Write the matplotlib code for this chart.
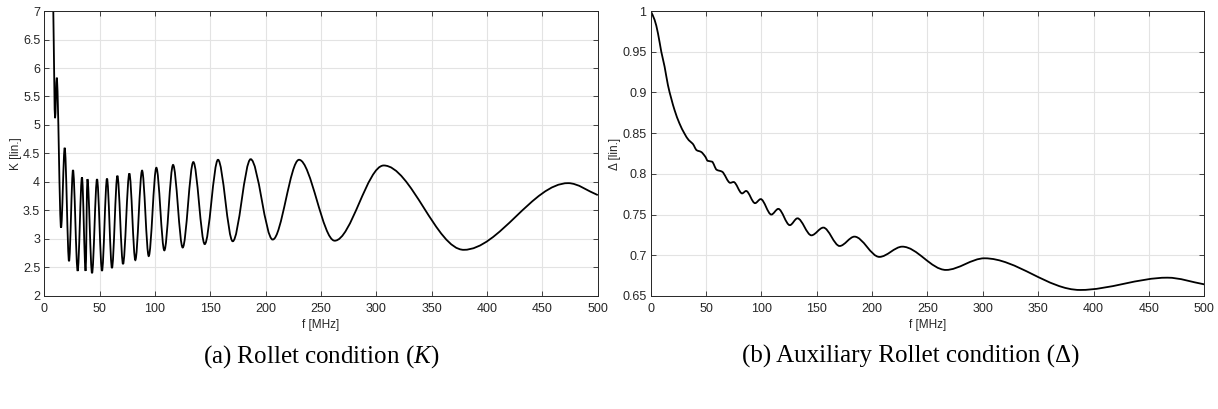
import matplotlib
matplotlib.use("Agg")
from matplotlib import pyplot as plt
from matplotlib.path import Path
from matplotlib.patches import PathPatch

# K (Rollet factor): points read at extrema of the curve
f_K = [8.1, 9.7, 11.2, 15.1, 18.4, 22.3, 25.9, 30.1, 34.0, 37.3, 38.9, 43.1,
       47.6, 52.1, 56.6, 61.1, 66.0, 71.1, 76.8, 82.2, 88.3, 94.3, 101.2,
       108.4, 116.3, 125.0, 134.6, 144.9, 156.9, 170.2, 186.4, 206.3, 230.1,
       262.3, 306.6, 378.9, 473.2, 500.0]
K = [7.0, 5.12, 5.83, 3.20, 4.60, 2.61, 4.21, 2.44, 4.08, 2.44, 4.05, 2.40,
     4.05, 2.44, 4.06, 2.49, 4.11, 2.56, 4.15, 2.63, 4.20, 2.70, 4.25,
     2.80, 4.30, 2.85, 4.35, 2.91, 4.39, 2.96, 4.40, 2.99, 4.39,
     2.97, 4.29, 2.81, 3.98, 3.77]

# Delta (auxiliary Rollet condition)
f_D = [0, 3.6, 6.6, 9.6, 12.6, 15.6, 18.6, 21.6, 26.0, 30.5, 34.4, 38.0,
       41.6, 45.5, 49.4, 51.5, 55.4, 59.6, 64.5, 71.9, 74.9, 82.6, 86.2,
       94.3, 99.4, 109.0, 115.3, 125.7, 132.6, 145.2, 156.0, 170.7, 184.1,
       206.6, 227.3, 266.7, 301.5, 387.9, 466.7, 500.0]
D = [1.0, 0.989, 0.9726, 0.950, 0.9316, 0.909, 0.8926, 0.8783, 0.862, 0.8496,
     0.8414, 0.837, 0.829, 0.827, 0.821, 0.816, 0.815, 0.805, 0.8027, 0.789,
     0.790, 0.776, 0.779, 0.764, 0.769, 0.750, 0.757, 0.737, 0.7454, 0.7245,
     0.734, 0.7114, 0.7229, 0.698, 0.7106, 0.682, 0.6963, 0.6574, 0.6725,
     0.6643]


def smooth_path(xs, ys):
    # cubic Bezier through the read points, flat at the extrema
    n = len(xs)
    m = []
    for i in range(n):
        if i == 0:
            s = (ys[1] - ys[0]) / (xs[1] - xs[0])
        elif i == n - 1:
            s = (ys[-1] - ys[-2]) / (xs[-1] - xs[-2])
        else:
            d0 = (ys[i] - ys[i - 1]) / (xs[i] - xs[i - 1])
            d1 = (ys[i + 1] - ys[i]) / (xs[i + 1] - xs[i])
            s = 0 if d0 * d1 <= 0 else 2 / (1 / d0 + 1 / d1)
        m.append(s)
    verts = [(xs[0], ys[0])]
    codes = [Path.MOVETO]
    for i in range(n - 1):
        h = xs[i + 1] - xs[i]
        verts += [(xs[i] + h / 3, ys[i] + m[i] * h / 3),
                  (xs[i + 1] - h / 3, ys[i + 1] - m[i + 1] * h / 3),
                  (xs[i + 1], ys[i + 1])]
        codes += [Path.CURVE4] * 3
    return Path(verts, codes)


plt.rcParams['font.family'] = ['Liberation Sans', 'DejaVu Sans']
plt.rcParams['mathtext.fontset'] = 'custom'
plt.rcParams['mathtext.rm'] = 'Liberation Serif'
plt.rcParams['mathtext.it'] = 'Liberation Serif:italic'

axcol = '#262626'
fig = plt.figure(figsize=(12.18, 4.09), dpi=100)
ax1 = fig.add_axes([0.0364, 0.2763, 0.4544, 0.6968])
ax2 = fig.add_axes([0.5342, 0.2763, 0.4545, 0.6968])


def style(ax, yticks, ylim, ylabel):
    ax.set_xlim(0, 500)
    ax.set_ylim(*ylim)
    ax.set_xticks(range(0, 501, 50))
    ax.set_yticks(yticks)
    ax.grid(True, color='#e3e3e3', linewidth=0.8)
    ax.set_axisbelow(True)
    ax.tick_params(direction='in', top=True, right=True, length=3.5,
                   width=0.6, labelsize=9, colors=axcol, pad=3)
    ax.tick_params(axis='x', pad=5)
    for sp in ax.spines.values():
        sp.set_color(axcol)
        sp.set_linewidth(0.7)
    ax.set_xlabel('f [MHz]', fontsize=8.5, color=axcol, labelpad=3)
    ax.set_ylabel(ylabel, fontsize=8.5, color=axcol, labelpad=1)


style(ax1, [2, 2.5, 3, 3.5, 4, 4.5, 5, 5.5, 6, 6.5, 7], (2, 7), 'K [lin.]')
ax1.set_yticklabels(['2', '2.5', '3', '3.5', '4', '4.5', '5', '5.5', '6', '6.5', '7'])
ax1.add_patch(PathPatch(smooth_path(f_K, K), fill=False, edgecolor='black',
                        linewidth=1.3, transform=ax1.transData))

style(ax2, [0.65, 0.7, 0.75, 0.8, 0.85, 0.9, 0.95, 1.0], (0.65, 1.0), 'Δ [lin.]')
ax2.set_yticklabels(['0.65', '0.7', '0.75', '0.8', '0.85', '0.9', '0.95', '1'])
ax2.add_patch(PathPatch(smooth_path(f_D, D), fill=False, edgecolor='black',
                        linewidth=1.3, transform=ax2.transData))

fig.text(0.2635, 0.128, r'(a) Rollet condition ($K$)', ha='center', va='center',
         fontsize=18, family='Liberation Serif')
fig.text(0.748, 0.128, '(b) Auxiliary Rollet condition (Δ)', ha='center',
         va='center', fontsize=18, family='Liberation Serif')

fig.savefig('out.png', dpi=100)
